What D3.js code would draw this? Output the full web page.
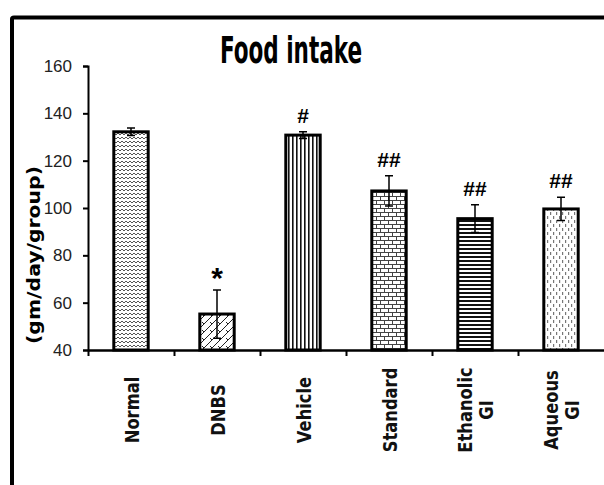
<!DOCTYPE html>
<html>
<head>
<meta charset="utf-8">
<script src="https://cdn.jsdelivr.net/npm/d3@7"></script>
<style>
  html, body { margin: 0; padding: 0; background: #fff; }
  svg { display: block; }
</style>
</head>
<body>
<div id="chart"></div>
<script>
// ---- data ----
const categories = [["Normal"], ["DNBS"], ["Vehicle"], ["Standard"], ["Ethanolic", "GI"], ["Aqueous", "GI"]];
const means = [132.2, 55.2, 130.8, 107.2, 95.5, 99.6];
const errors = [1.6, 10.2, 1.4, 6.4, 5.9, 4.9];
const marks = ["", "*", "#", "##", "##", "##"];
const yTicks = [40, 60, 80, 100, 120, 140, 160];
const patternIds = ["zigzag", "diag", "vert", "brick", "horiz", "dots"];

const W = 604, H = 485;
const svg = d3.select("#chart").append("svg").attr("width", W).attr("height", H);

// ---- patterns ----
const defs = svg.append("defs");
function pat(id, w, h) {
  return defs.append("pattern").attr("id", id).attr("patternUnits", "userSpaceOnUse")
    .attr("width", w).attr("height", h);
}
let p = pat("zigzag", 4, 4);
p.append("rect").attr("width", 4).attr("height", 4).attr("fill", "#fff");
p.append("path").attr("d", "M0,3 L2,1 L4,3").attr("fill", "none").attr("stroke", "#555").attr("stroke-width", 1);
p = pat("diag", 8, 8);
p.append("rect").attr("width", 8).attr("height", 8).attr("fill", "#fff");
p.append("path").attr("d", "M0,8 L8,0 M-2,2 L2,-2 M6,10 L10,6").attr("stroke", "#222").attr("stroke-width", 1);
p.append("path").attr("d", "M2,2 L4,4").attr("stroke", "#222").attr("stroke-width", 1);
p = pat("vert", 4, 4);
p.append("rect").attr("width", 4).attr("height", 4).attr("fill", "#fff");
p.append("rect").attr("x", 0).attr("width", 1.6).attr("height", 4).attr("fill", "#111");
p = pat("brick", 8, 8);
p.append("rect").attr("width", 8).attr("height", 8).attr("fill", "#fff");
p.append("path").attr("d", "M0,0.5 H8 M0,4.5 H8 M0.5,0.5 V4.5 M4.5,4.5 V8.5").attr("stroke", "#444").attr("stroke-width", 1).attr("fill", "none");
p = pat("horiz", 4, 4);
p.append("rect").attr("width", 4).attr("height", 4).attr("fill", "#fff");
p.append("rect").attr("y", 0).attr("width", 4).attr("height", 2).attr("fill", "#111");
p = pat("dots", 6, 8);
p.append("rect").attr("width", 6).attr("height", 8).attr("fill", "#fff");
p.append("rect").attr("x", 1).attr("y", 0).attr("width", 1.2).attr("height", 3).attr("fill", "#777");
p.append("rect").attr("x", 4).attr("y", 4).attr("width", 1.2).attr("height", 3).attr("fill", "#777");

// ---- outer frame ----
svg.append("path").attr("d", `M12,${H + 5} V19 Q12,17.5 14,17.5 H${W + 5}`)
  .attr("fill", "none").attr("stroke", "#000").attr("stroke-width", 4);

// ---- scales ----
const x = d3.scaleBand().domain(d3.range(categories.length)).range([88, 604]).padding(0);
const y = d3.scaleLinear().domain([40, 160]).range([350, 66]);
const barW = x.bandwidth() * 0.4;

// ---- title ----
svg.append("text").attr("x", 291).attr("y", 63).attr("text-anchor", "middle")
  .attr("font-family", "'Liberation Sans Narrow', 'DejaVu Sans Condensed', Arial, sans-serif")
  .attr("font-weight", "bold").attr("font-size", 38)
  .attr("textLength", 142).attr("lengthAdjust", "spacingAndGlyphs")
  .text("Food intake");

// ---- y axis ----
const yAxis = svg.append("g").attr("transform", "translate(88,0)")
  .call(d3.axisLeft(y).tickValues(yTicks).tickSize(5).tickPadding(11).tickFormat(d3.format("d")));
yAxis.select(".domain").attr("stroke", "#000").attr("stroke-width", 2);
yAxis.selectAll(".tick line").attr("stroke", "#000").attr("stroke-width", 2);
yAxis.selectAll(".tick text").attr("font-family", "'Liberation Sans Narrow', Arial, sans-serif")
  .attr("font-size", 17).attr("fill", "#222");

svg.append("text").attr("transform", "translate(34,255) rotate(-90)")
  .attr("text-anchor", "middle").attr("dy", "0.35em")
  .attr("font-family", "'DejaVu Sans', Verdana, sans-serif").attr("font-weight", "bold")
  .attr("font-size", 17).attr("textLength", 178).attr("lengthAdjust", "spacingAndGlyphs")
  .text("(gm/day/group)");

// ---- bars ----
const g = svg.append("g");
categories.forEach((c, i) => {
  const cx = x(i) + x.bandwidth() / 2;
  g.append("rect").attr("x", cx - barW / 2).attr("y", y(means[i]))
    .attr("width", barW).attr("height", y(40) - y(means[i]))
    .attr("fill", `url(#${patternIds[i]})`).attr("stroke", "#000").attr("stroke-width", 3);
});

// ---- error bars ----
categories.forEach((c, i) => {
  const cx = x(i) + x.bandwidth() / 2;
  const top = y(means[i] + errors[i]), bot = y(means[i] - errors[i]);
  g.append("path").attr("d", `M${cx},${top} V${bot} M${cx - 4},${top} H${cx + 4} M${cx - 4},${bot} H${cx + 4}`)
    .attr("stroke", "#000").attr("stroke-width", 1.5).attr("fill", "none");
  if (marks[i]) {
    const star = marks[i] === "*";
    g.append("text").attr("x", cx).attr("y", top - (star ? 2 : 9))
      .attr("text-anchor", "middle")
      .attr("font-family", "'Liberation Sans', Arial, sans-serif")
      .attr("font-weight", "bold")
      .attr("font-size", star ? 30 : 21)
      .text(marks[i]);
  }
});

// ---- x axis ----
const xb = d3.scaleLinear().domain([0, categories.length]).range([88, 604]);
const xAxis = svg.append("g").attr("transform", "translate(0,350)")
  .call(d3.axisBottom(xb).tickValues(d3.range(categories.length)).tickSize(6).tickSizeOuter(0).tickFormat(""));
xAxis.select(".domain").attr("stroke", "#000").attr("stroke-width", 2.5);
xAxis.selectAll(".tick line").attr("stroke", "#000").attr("stroke-width", 2);

// ---- x labels ----
categories.forEach((lines, i) => {
  const cx = x(i) + x.bandwidth() / 2 + 1;
  const t = svg.append("text").attr("transform", `translate(${cx},410) rotate(-90) scale(0.86,1)`)
    .attr("text-anchor", "middle")
    .attr("font-family", "'DejaVu Sans', Verdana, sans-serif").attr("font-weight", "bold")
    .attr("font-size", 19).attr("fill", "#111");
  const n = lines.length;
  lines.forEach((ln, k) => {
    t.append("tspan").attr("x", 0).attr("y", (k - (n - 1) / 2) * 21).attr("dy", "0.36em").text(ln);
  });
});
</script>
</body>
</html>
